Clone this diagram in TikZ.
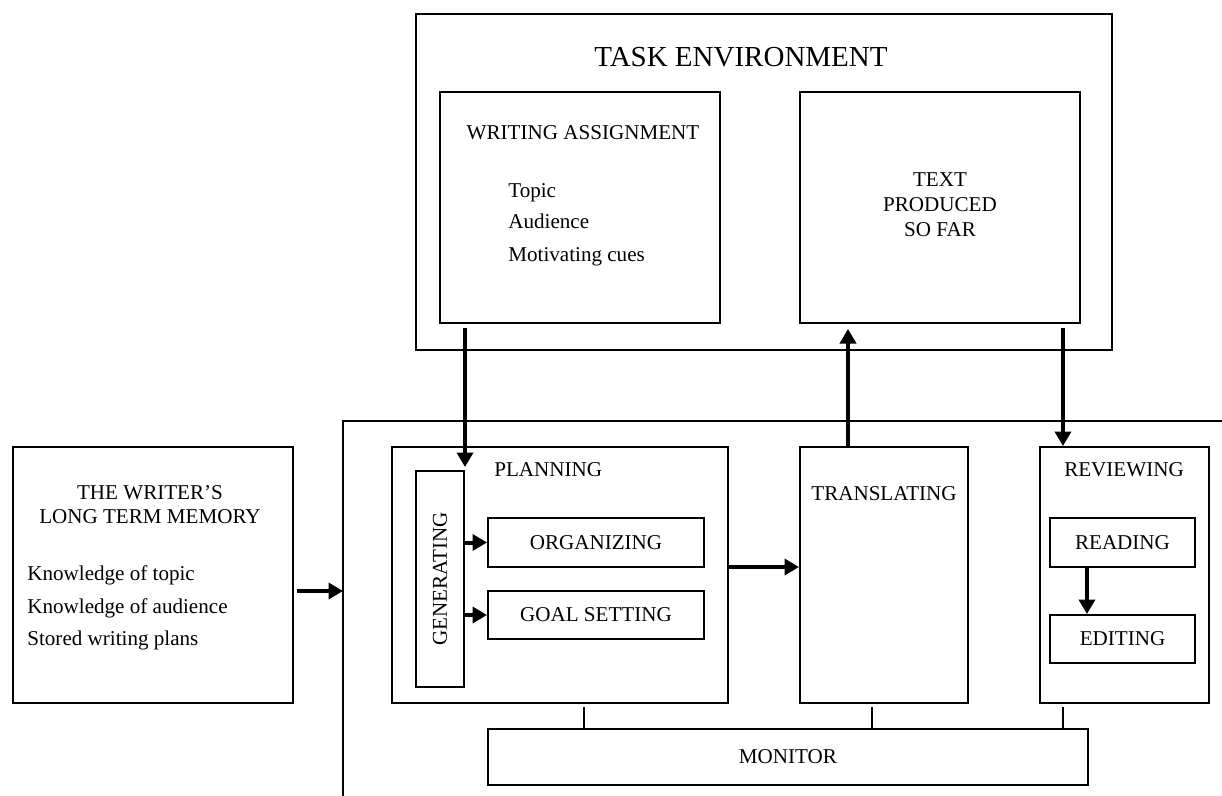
\documentclass[tikz,border=0pt]{standalone}
\usepackage{fontspec}
\setmainfont{Liberation Serif}
\usetikzlibrary{arrows.meta,positioning,calc}

\begin{document}
\begin{tikzpicture}[x=0.2mm,y=-0.2mm,
  box/.style={draw,line width=0.4mm,inner sep=0pt},
  arr/.style={line width=0.8mm,-{Triangle[length=2.9mm,width=3.2mm]}},
  link/.style={line width=0.4mm},
  every node/.style={inner sep=0pt,font=\fontsize{12}{14.2}\selectfont}]
 \useasboundingbox (0,0) rectangle (1222,796);
 \node[box,minimum width=139.2mm,minimum height=67.2mm] (task) at (764,182) {};
 \node[anchor=base,font=\fontsize{16.5}{20}\selectfont] (tasktitle) at (741,66) {TASK ENVIRONMENT};
 \node[box,minimum width=56mm,minimum height=46.2mm] (assign) at (580,207.5) {};
 \node[anchor=base] (assigntitle) at (583,139) {WRITING ASSIGNMENT};
 \node[anchor=base west] (topic) at (508,197) {Topic};
 \node[anchor=base west] (aud) at (508,228) {Audience};
 \node[anchor=base west] (cues) at (508,261) {Motivating cues};
 \node[box,minimum width=56mm,minimum height=46.2mm] (sofar) at (940,207.5) {};
 \node[align=center] (sofartext) at (940,205) {TEXT\\PRODUCED\\SO FAR};

 \node[box,minimum width=56mm,minimum height=51.2mm] (ltm) at (153,575) {};
 \node[align=center,font=\fontsize{12}{13.7}\selectfont] (ltmtitle) at (150,505) {THE WRITER’S\\LONG TERM MEMORY};
 \node[anchor=base west] (ktopic) at (27,580) {Knowledge of topic};
 \node[anchor=base west] (kaud) at (27,613) {Knowledge of audience};
 \node[anchor=base west] (kplans) at (27,645) {Stored writing plans};

 \coordinate (proc) at (343,421);
 \draw[link] (1222,421) -- (proc) -- (343,796);
 \node[box,minimum width=67.2mm,minimum height=51.2mm] (plan) at (560,575) {};
 \node[anchor=base west] (plantitle) at (494,476) {PLANNING};
 \node[box,minimum width=9.6mm,minimum height=43.2mm] (gen) at (440,579) {};
 \node[rotate=90] (gentext) at (gen) {GENERATING};
 \node[box,minimum width=43.2mm,minimum height=9.8mm] (org) at (596,542.5) {ORGANIZING};
 \node[box,minimum width=43.2mm,minimum height=9.6mm] (goal) at (596,615) {GOAL SETTING};
 \node[box,minimum width=33.6mm,minimum height=51.2mm] (trans) at (884,575) {};
 \node[anchor=base] (transtitle) at (884,500) {TRANSLATING};
 \node[box,minimum width=33.8mm,minimum height=51.2mm] (rev) at (1124.5,575) {};
 \node[anchor=base] (revtitle) at (1124,476) {REVIEWING};
 \node[box,minimum width=29mm,minimum height=9.8mm] (read) at (1122.5,542.5) {READING};
 \node[box,minimum width=29mm,minimum height=9.6mm] (edit) at (1122.5,639) {EDITING};
 \node[box,minimum width=120mm,minimum height=11.2mm] (mon) at (788,757) {MONITOR};

 \coordinate (ltmout) at ([yshift=-3.2mm]ltm.east);
 \draw[arr,shorten <=0.6mm] (ltmout) -- (ltmout -| proc);
 \draw[arr,shorten <=0.8mm,shorten >=0.6mm] (assign.south -| gen.north east) -- (gen.north east);
 \coordinate (upx) at ([xshift=-7.2mm]trans.north);
 \draw[arr,shorten >=1mm] (upx) -- (upx |- sofar.south);
 \coordinate (dnx) at ([xshift=4.8mm]rev.north west);
 \draw[arr,shorten <=0.8mm] (dnx |- sofar.south) -- (dnx);
 \draw[arr] (gen.east |- org) -- (org.west);
 \draw[arr] (gen.east |- goal) -- (goal.west);
 \coordinate (planout) at ([yshift=1.6mm]plan.east);
 \draw[arr] (planout) -- (planout -| trans.west);
 \coordinate (readout) at ([xshift=7.6mm]read.south west);
 \draw[arr] (readout) -- (readout |- edit.north);

 \coordinate (planmon) at ([xshift=4.8mm]plan.south);
 \draw[link,shorten <=0.6mm] (planmon) -- (planmon |- mon.north);
 \coordinate (transmon) at ([xshift=-2.4mm]trans.south);
 \draw[link,shorten <=0.6mm] (transmon) -- (transmon |- mon.north);
 \draw[link,shorten <=0.6mm] (dnx |- rev.south) -- (dnx |- mon.north);
\end{tikzpicture}
\end{document}
